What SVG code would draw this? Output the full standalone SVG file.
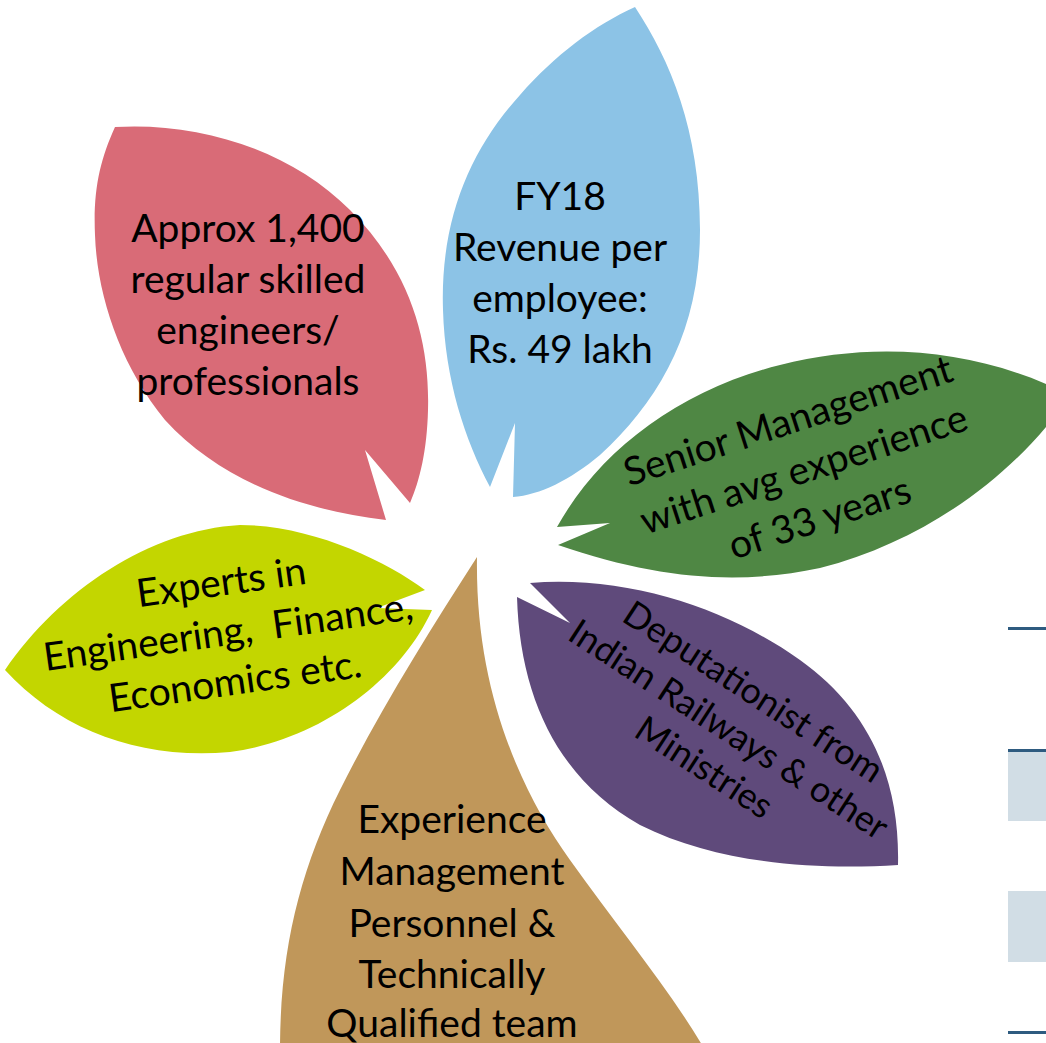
<svg xmlns="http://www.w3.org/2000/svg" width="1046" height="1043" viewBox="0 0 1046 1043">
<style>
.t{font-family:Lato,"Open Sans","Liberation Sans",sans-serif;font-size:39px;fill:#000;text-anchor:middle}
.rule{fill:#2e5b80}
.band{fill:#d1dde5}
</style>
<rect width="1046" height="1043" fill="#fff"/>
<g id="table">
<rect class="rule" x="1008" y="627" width="38" height="3"/>
<rect class="rule" x="1008" y="749" width="38" height="3"/>
<rect class="band" x="1008" y="752" width="38" height="69"/>
<rect class="band" x="1008" y="891" width="38" height="71"/>
<rect class="rule" x="1008" y="1031" width="38" height="3"/>
</g>
<g id="connectors"/>
<g id="leaf-engineers">
<path fill="#d96b77" d="M115,127 C200,122 290,150 350,210 C410,270 430,340 428,410 C427,450 420,480 410,503 L365,450 L386,520 C300,510 220,480 165,420 C120,365 97,295 95,235 C93,190 100,160 115,127 Z"/>
<text class="t"><tspan x="248" y="242">Approx 1,400</tspan><tspan x="248" y="293">regular skilled</tspan><tspan x="248" y="344">engineers/</tspan><tspan x="248" y="395">professionals</tspan></text>
</g>
<g id="leaf-revenue">
<path fill="#8cc3e6" d="M635,7 C670,60 700,130 700,230 C700,330 660,400 600,455 C570,480 540,495 513,497 L515,423 L490,487 C465,440 445,380 443,310 C440,220 470,150 520,95 C555,55 595,25 635,7 Z"/>
<text class="t"><tspan x="560" y="210">FY18</tspan><tspan x="560" y="261">Revenue per</tspan><tspan x="560" y="312">employee:</tspan><tspan x="560" y="363">Rs. 49 lakh</tspan></text>
</g>
<g id="leaf-senior">
<path fill="#4f8744" d="M558,545 C660,580 740,585 820,568 C930,540 1020,470 1070,395 C980,350 880,340 780,365 C680,390 600,450 557,527 L610,523 Z"/>
<text class="t" transform="translate(808,482) rotate(-18)"><tspan x="0" y="-51">Senior Management</tspan><tspan x="0" y="0">with avg experience</tspan><tspan x="0" y="51">of 33 years</tspan></text>
</g>
<g id="leaf-deputation">
<path fill="#5f4a7b" d="M517,597 C520,700 560,780 640,825 C720,865 820,870 898,865 C900,780 870,710 800,660 C730,610 630,575 530,583 L570,623 Z"/>
<text class="t" style="font-size:36px" transform="translate(722,740) rotate(33)"><tspan x="0" y="-45">Deputationist from</tspan><tspan x="0" y="0">Indian Railways &amp; other</tspan><tspan x="0" y="45">Ministries</tspan></text>
</g>
<g id="leaf-experts">
<path fill="#c3d600" d="M5,670 C60,590 150,530 240,525 C310,525 385,560 425,590 L377,608 L432,610 C400,680 320,740 230,752 C140,760 60,730 5,670 Z"/>
<text class="t" xml:space="preserve" style="white-space:pre" transform="translate(230,645) rotate(-8)"><tspan x="0" y="-50">Experts in</tspan><tspan x="0" y="0">Engineering,  Finance,</tspan><tspan x="0" y="50">Economics etc.</tspan></text>
</g>
<g id="leaf-experience">
<path fill="#c0975a" d="M477,557 C475,690 520,790 570,860 C620,930 670,990 705,1050 L280,1050 C280,950 300,870 340,790 C380,710 430,630 477,557 Z"/>
<text class="t"><tspan x="452" y="833">Experience</tspan><tspan x="452" y="885">Management</tspan><tspan x="452" y="937">Personnel &amp;</tspan><tspan x="452" y="988">Technically</tspan><tspan x="452" y="1037">Qualified team</tspan></text>
</g>
</svg>
